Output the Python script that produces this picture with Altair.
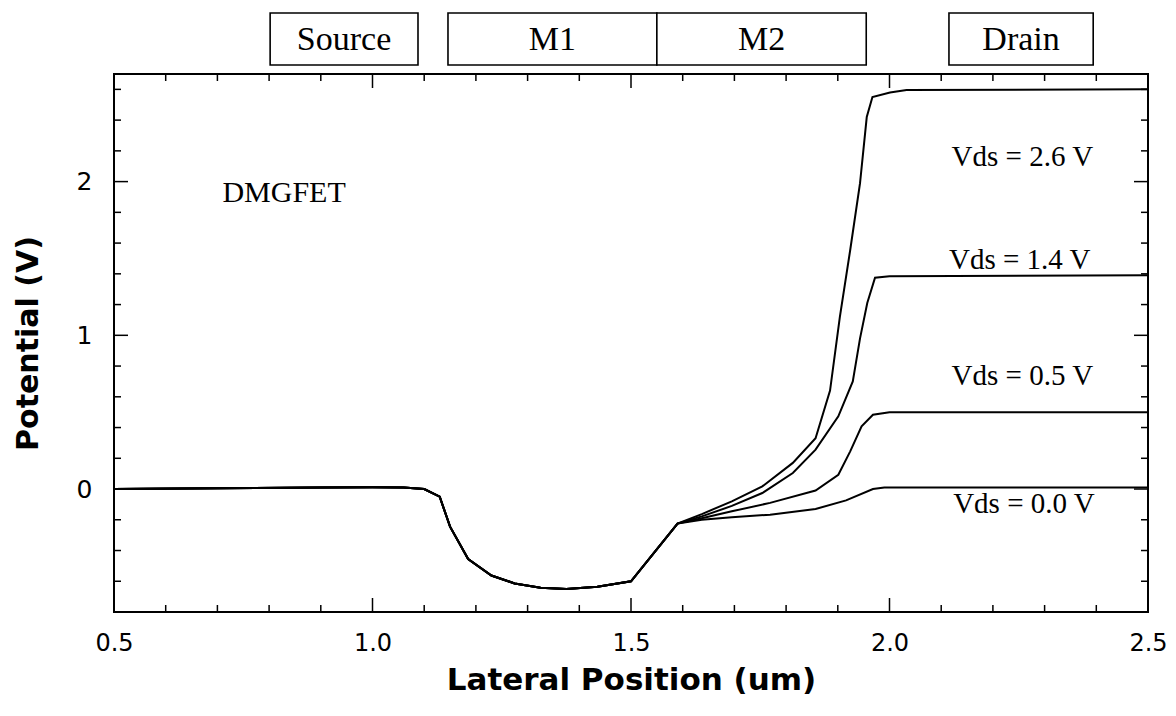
import altair as alt
import pandas as pd

# ---- data ----
# common part of all four curves (source -> M1 -> start of M2)
x_common = [0.50, 0.70, 0.90, 1.00, 1.06, 1.10, 1.13, 1.15, 1.185, 1.23, 1.275, 1.325, 1.375, 1.435, 1.50, 1.59]
y_common = [0.00, 0.005, 0.01, 0.012, 0.01, 0.00, -0.05, -0.245, -0.455, -0.563, -0.614, -0.642, -0.651, -0.636, -0.60, -0.225]

x_v00 = [1.637, 1.695, 1.769, 1.857, 1.916, 1.968, 1.99, 2.50]
y_v00 = [-0.20, -0.184, -0.167, -0.13, -0.074, 0.0, 0.01, 0.01]

x_v05 = [1.637, 1.695, 1.769, 1.857, 1.901, 1.924, 1.946, 1.968, 2.00, 2.50]
y_v05 = [-0.19, -0.145, -0.09, -0.01, 0.093, 0.245, 0.408, 0.483, 0.50, 0.50]

x_v14 = [1.637, 1.695, 1.754, 1.813, 1.857, 1.901, 1.929, 1.943, 1.957, 1.972, 2.00, 2.50]
y_v14 = [-0.178, -0.11, -0.026, 0.104, 0.256, 0.473, 0.70, 0.98, 1.21, 1.375, 1.385, 1.39]

x_v26 = [1.637, 1.695, 1.754, 1.813, 1.857, 1.885, 1.904, 1.924, 1.943, 1.956, 1.967, 2.001, 2.033, 2.50]
y_v26 = [-0.163, -0.08, 0.017, 0.17, 0.33, 0.64, 1.12, 1.555, 1.99, 2.42, 2.55, 2.58, 2.596, 2.60]

series_names = ["Vds = 0.0 V", "Vds = 0.5 V", "Vds = 1.4 V", "Vds = 2.6 V"]
series_x = [x_v00, x_v05, x_v14, x_v26]
series_y = [y_v00, y_v05, y_v14, y_v26]

# curve labels
label_text = ["Vds = 2.6 V", "Vds = 1.4 V", "Vds = 0.5 V", "Vds = 0.0 V"]
label_x = [2.257, 2.252, 2.257, 2.26]
label_y = [2.16, 1.49, 0.735, -0.10]

# device regions drawn above the plot
region_names = ["Source", "M1", "M2", "Drain"]
region_start = [0.802, 1.146, 1.550, 2.115]
region_end = [1.088, 1.550, 1.955, 2.394]

note_text = ["DMGFET"]
note_x = [0.829]
note_y = [1.926]

x_major = [1.0, 1.5, 2.0]
x_minor = [0.6, 0.7, 0.8, 0.9, 1.1, 1.2, 1.3, 1.4, 1.6, 1.7, 1.8, 1.9, 2.1, 2.2, 2.3, 2.4]
y_major = [0, 1, 2]
y_minor = [-0.6, -0.4, -0.2, 0.2, 0.4, 0.6, 0.8, 1.2, 1.4, 1.6, 1.8, 2.2, 2.4, 2.6]

x_labels = [0.5, 1.0, 1.5, 2.0, 2.5]
y_labels = [0, 1, 2]

# ---- tables ----
rows = []
for name, xs_, ys_ in zip(series_names, series_x, series_y):
    for a, b in zip(x_common, y_common):
        rows.append({"series": name, "x": a, "y": b})
    for a, b in zip(xs_, ys_):
        rows.append({"series": name, "x": a, "y": b})
curves = pd.DataFrame(rows)
labels = pd.DataFrame({"text": label_text, "x": label_x, "y": label_y})
regions = pd.DataFrame({"name": region_names, "start": region_start, "end": region_end})
note = pd.DataFrame({"text": note_text, "x": note_x, "y": note_y})

W, H = 1034, 538
SANS = "DejaVu Sans"
SERIF = "Liberation Serif"

xs = alt.Scale(domain=[0.5, 2.5], nice=False, zero=False)
ys = alt.Scale(domain=[-0.8, 2.7], nice=False, zero=False)

x_axis = alt.Axis(
    values=x_labels, format=".1f", ticks=False, domain=False, grid=False,
    labelPadding=19, labelFontSize=24, labelFont=SANS, labelColor="black",
    labelFlush=False, title="Lateral Position (um)", titleFont=SANS,
    titleFontSize=31, titleFontWeight="bold", titleColor="black",
    titleY=68, titleBaseline="middle",
)
y_axis = alt.Axis(
    values=y_labels, format="d", ticks=False, domain=False, grid=False,
    labelPadding=22, labelFontSize=25, labelFont=SANS, labelColor="black",
    title="Potential (V)", titleFont=SANS, titleFontSize=30,
    titleFontWeight="bold", titleColor="black", titleX=-86,
    titleBaseline="middle",
)


def X(field):
    return alt.X(field, scale=xs, axis=x_axis)


def Y(field):
    return alt.Y(field, scale=ys, axis=y_axis)


lines = alt.Chart(curves).mark_line(color="black", strokeWidth=2).encode(
    x=X("x:Q"),
    y=Y("y:Q"),
    detail="series:N",
    order="x:Q",
)

curve_labels = alt.Chart(labels).mark_text(
    font=SERIF, fontSize=29, color="black", align="center", baseline="middle"
).encode(
    x=X("x:Q"),
    y=Y("y:Q"),
    text="text:N",
)

note_mark = alt.Chart(note).mark_text(
    font=SERIF, fontSize=30, color="black", align="center", baseline="middle"
).encode(
    x=X("x:Q"),
    y=Y("y:Q"),
    text="text:N",
)

boxes = alt.Chart(regions).mark_rect(
    fill="white", stroke="black", strokeWidth=1.6
).encode(
    x=X("start:Q"),
    x2="end:Q",
    y=alt.value(-61),
    y2=alt.value(-9),
)

box_text = alt.Chart(regions).transform_calculate(
    mid="(datum.start + datum.end) / 2"
).mark_text(
    font=SERIF, fontSize=34, color="black", align="center", baseline="middle"
).encode(
    x=X("mid:Q"),
    y=alt.value(-34),
    text="name:N",
)


def xticks(vals, length):
    d = pd.DataFrame({"v": vals})
    bottom = alt.Chart(d).mark_rule(color="black", strokeWidth=1.5).encode(
        x=X("v:Q"), y=alt.value(H), y2=alt.value(H - length))
    top = alt.Chart(d).mark_rule(color="black", strokeWidth=1.5).encode(
        x=X("v:Q"), y=alt.value(0), y2=alt.value(length))
    return [bottom, top]


def yticks(vals, length):
    d = pd.DataFrame({"v": vals})
    left = alt.Chart(d).mark_rule(color="black", strokeWidth=1.5).encode(
        y=Y("v:Q"), x=alt.value(0), x2=alt.value(length))
    right = alt.Chart(d).mark_rule(color="black", strokeWidth=1.5).encode(
        y=Y("v:Q"), x=alt.value(W), x2=alt.value(W - length))
    return [left, right]


tick_layers = xticks(x_major, 14) + xticks(x_minor, 7) + yticks(y_major, 14) + yticks(y_minor, 7)

chart = alt.layer(
    lines, *tick_layers, curve_labels, note_mark, boxes, box_text
).properties(
    width=W, height=H,
    autosize=alt.AutoSizeParams(type="none"),
    padding={"left": 106, "top": 66, "right": 20, "bottom": 96},
    background="white",
).configure_view(
    stroke="black", strokeWidth=2
)

chart.save("out.html", embed_options={"renderer": "svg", "actions": False})
